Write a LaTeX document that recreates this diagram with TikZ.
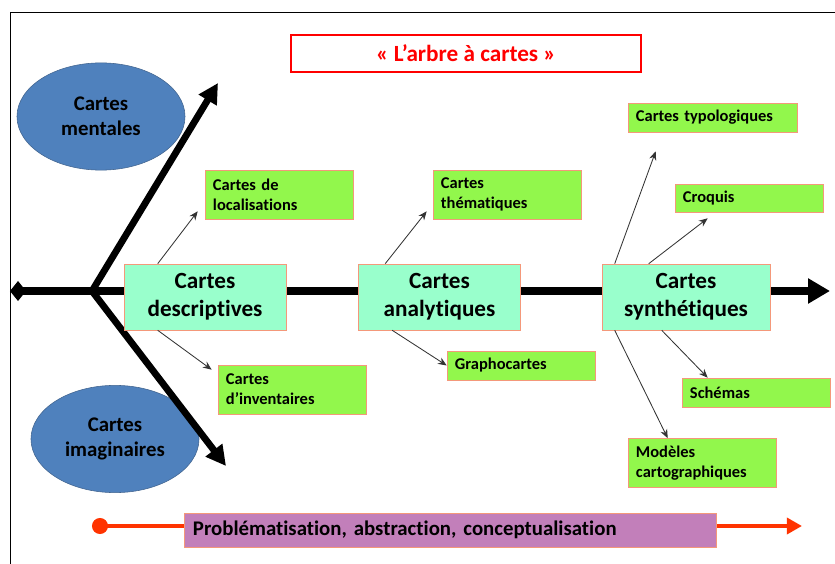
\documentclass[tikz,border=0pt]{standalone}
\usepackage{fontspec}
\setmainfont{Carlito}[Ligatures=NoCommon]
\usetikzlibrary{arrows.meta,shapes.geometric}

\definecolor{ellblue}{HTML}{4F81BD}
\definecolor{ellline}{HTML}{41648F}
\definecolor{aqua}{HTML}{99FFCC}
\definecolor{lime}{HTML}{92F74C}
\definecolor{boxline}{HTML}{F4987A}
\definecolor{lilac}{HTML}{C27FBA}
\definecolor{flame}{HTML}{FF3300}

\begin{document}
\begin{tikzpicture}[
    x=0.025cm, y=-0.025cm,
    % Node styles
    mainbox/.style={
        draw=boxline,
        fill=aqua,
        minimum width=4.05cm,
        minimum height=1.65cm,
        inner sep=0pt,
        align=center,
        font=\bfseries\fontsize{16.5}{20}\selectfont
    },
    subbox/.style={
        draw=boxline,
        fill=lime,
        inner xsep=0.2cm,
        inner ysep=0pt,
        text width=3.3cm,
        minimum height=1.225cm,
        align=left,
        font=\bfseries\fontsize{11.7}{14.2}\selectfont
    },
    ellbox/.style={
        ellipse,
        draw=ellline,
        fill=ellblue,
        minimum width=4.2cm,
        minimum height=2.68cm,
        inner sep=0pt,
        align=center,
        font=\bfseries\fontsize{14.8}{17.7}\selectfont
    },
    % Arrow styles
    arrow/.style={->, >={Stealth[length=2.2mm,width=1.8mm]}, draw=black!80, line width=0.6pt},
    trunk/.style={line width=0.2cm, {Diamond[length=0.4cm,width=0.5cm]}-{Triangle[length=0.55cm,width=0.6cm]}},
    branch/.style={line width=0.17cm, -{Triangle[length=0.5cm,width=0.5cm]}}
    ]

    \useasboundingbox (0,0) rectangle (835,564);
    \draw[line width=0.7pt] (835,12) -- (10,12) -- (10,564);

    % Title
    \node[draw=red, line width=2pt, fill=white, minimum width=8.75cm, minimum height=0.925cm,
          text=red, font=\bfseries\fontsize{16.5}{20}\selectfont] (title) at (466,53.5) {« L’arbre à cartes »};

    % Ellipses on the left
    \node[ellbox] (mental) at (101,116.5) {Cartes\\mentales};
    \node[ellbox] (imagin) at (115,439) {Cartes\\imaginaires};

    % Trunk and the two branches
    \coordinate (start) at (10,291);
    \coordinate (fork) at (92,291);
    \coordinate (stop) at (830,291);
    \coordinate (uptip) at (218,83);
    \coordinate (downtip) at (226,466);
    \draw[trunk] (start) -- (stop);
    \draw[branch] (fork) -- (uptip);
    \draw[branch] (fork) -- (downtip);

    % Main boxes on the trunk
    \node[mainbox] (desc) at (205,297) {Cartes\\descriptives};
    \node[mainbox] (anal) at (439.5,297) {Cartes\\analytiques};
    \node[mainbox, minimum width=4.2cm] (synt) at (686,297) {Cartes\\synthétiques};

    % Green boxes
    \node[subbox] (loc) at (279,194.5) {Cartes de\\localisations};
    \node[subbox] (inv) at (292,389.5) {Cartes\\d’inventaires};
    \node[subbox] (them) at (507,194.5) {Cartes\\thématiques};
    \node[subbox, minimum height=0.725cm] (grapho) at (521,365.5) {Graphocartes};
    \node[subbox, minimum height=0.725cm, text width=3.825cm] (typo) at (712.5,117.5) {Cartes typologiques};
    \node[subbox, minimum height=0.7cm] (croq) at (749,198) {Croquis};
    \node[subbox, minimum height=0.725cm] (schem) at (756,392.5) {Schémas};
    \node[subbox] (model) at (702,463) {Modèles\\cartographiques};

    % Thin arrows from the main boxes
    \draw[arrow] ([xshift=0.85cm]desc.north west) -- ([shift={(-0.175cm,0.2cm)}]loc.south west);
    \draw[arrow] ([xshift=0.85cm]desc.south west) -- ([shift={(-0.15cm,-0.125cm)}]inv.north west);
    \draw[arrow] ([xshift=0.675cm]anal.north west) -- ([shift={(-0.15cm,0.2cm)}]them.south west);
    \draw[arrow] ([xshift=0.85cm]anal.south west) -- (grapho.west);
    \draw[arrow] ([xshift=0.325cm]synt.north west) -- ([shift={(0.7cm,-0.475cm)}]typo.south west);
    \draw[arrow] ([xshift=1.175cm]synt.north west) -- ([shift={(0.825cm,-0.15cm)}]croq.south west);
    \draw[arrow] ([xshift=1.5cm]synt.south west) -- ([xshift=0.65cm]schem.north west);
    \draw[arrow] ([xshift=0.325cm]synt.south west) -- ([xshift=1cm]model.north west);

    % Bottom red arrow with the purple box
    \coordinate (dot) at (92,526);
    \coordinate (redtip) at (802,526);
    \draw[flame, line width=0.1cm, {Circle[length=0.4cm]}-{Triangle[length=0.38cm,width=0.4cm]}] (dot) -- (redtip);
    \node[draw=boxline, fill=lilac, minimum width=13.3cm, minimum height=0.85cm, inner xsep=0.225cm,
          text width=12.85cm, align=left, font=\bfseries\fontsize{14.8}{17}\selectfont] (problem) at (450,530)
          {Problématisation, abstraction, conceptualisation};

\end{tikzpicture}
\end{document}
